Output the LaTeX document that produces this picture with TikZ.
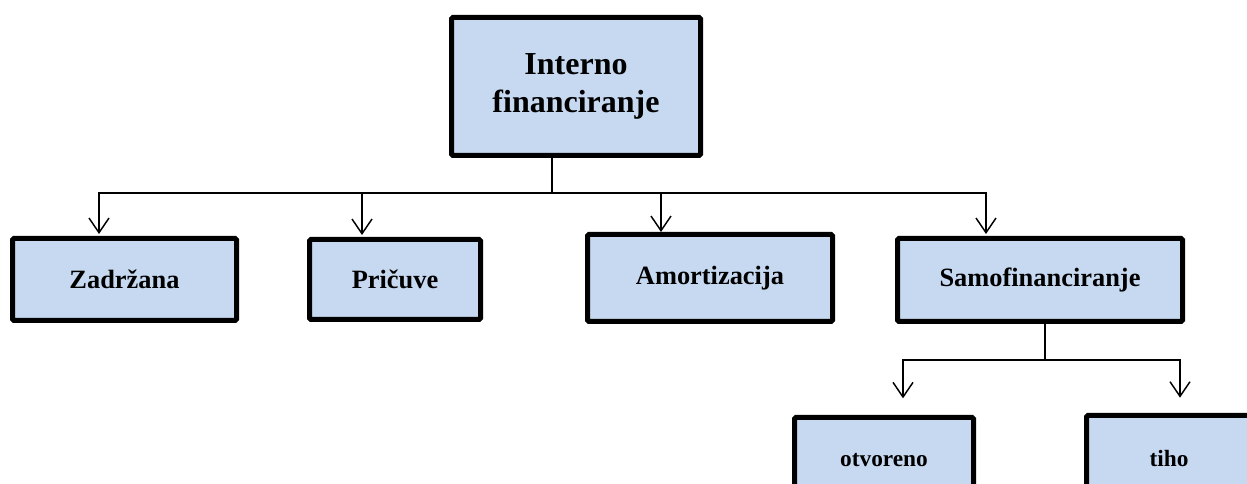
\documentclass[tikz,border=0pt]{standalone}
\usepackage{fontspec}
\setmainfont{Liberation Serif}
\usetikzlibrary{arrows.meta}
\definecolor{boxblue}{RGB}{198,217,241}
\tikzset{
	finbox/.style={draw=black, line width=3.75pt, fill=boxblue, rounded corners=1pt, inner sep=0pt, align=center, font=\bfseries\fontsize{19.8}{24}\selectfont},
	link/.style={line width=1.1pt, line cap=rect},
	linkarrow/.style={line width=1.1pt, -{Straight Barb[length=11pt,width=15pt]}}
}

\begin{document}
\begin{tikzpicture}[x=0.75pt, y=-0.75pt]
		%%%%% START %%%%%
		\useasboundingbox (0, 0) rectangle (1247, 484);
		\clip (0, 0) rectangle (1247, 484);
		
		\node[finbox, minimum width=186.75pt, minimum height=103.5pt, font=\bfseries\fontsize{24}{28.5}\selectfont] (interno) at (576, 86.5) {Interno\\financiranje};
		
		\node[finbox, minimum width=168pt, minimum height=61.5pt] (zad) at (124.5, 279.5) {Zadržana};
		\node[finbox, minimum width=128.25pt, minimum height=60pt] (pri) at (395, 279.5) {Pričuve};
		\node[finbox, minimum width=183.75pt, minimum height=65.25pt] (amo) at (710, 278) {Amortizacija};
		\node[finbox, minimum width=213.75pt, minimum height=62.25pt] (samo) at (1040, 280) {Samofinanciranje};
		
		\node[finbox, minimum width=134.25pt, minimum height=63.75pt, font=\bfseries\fontsize{17.5}{21}\selectfont] (otv) at (884, 460) {otvoreno};
		\node[finbox, minimum width=123.75pt, minimum height=65.25pt, font=\bfseries\fontsize{17.5}{21}\selectfont] (tiho) at (1169, 459) {tiho};
		
		% upper branch
		\coordinate (hub) at (552, 193);
		\coordinate (j1) at (99, 193);
		\coordinate (j2) at (362, 193);
		\coordinate (j3) at (661, 193);
		\coordinate (j4) at (986, 193);
		\draw[link] (hub |- interno.south) -- (hub);
		\draw[link] (j1) -- (j4);
		\draw[linkarrow, shorten >=1.5pt] (j1) -- (j1 |- zad.north);
		\draw[linkarrow, shorten >=1.5pt] (j2) -- (j2 |- pri.north);
		\draw[linkarrow, shorten >=0pt] (j3) -- (j3 |- amo.north);
		\draw[linkarrow, shorten >=1.5pt] (j4) -- (j4 |- samo.north);
		
		% lower branch
		\coordinate (hub2) at (1045, 360);
		\coordinate (s1) at (903, 360);
		\coordinate (s2) at (1180, 360);
		\draw[link] (samo.south -| hub2) -- (hub2);
		\draw[link] (s1) -- (s2);
		\draw[linkarrow, shorten >=12.5pt] (s1) -- (s1 |- otv.north);
		\draw[linkarrow, shorten >=11.5pt] (s2) -- (s2 |- tiho.north);
		
		%%%%% END %%%%%
\end{tikzpicture}
\end{document}
